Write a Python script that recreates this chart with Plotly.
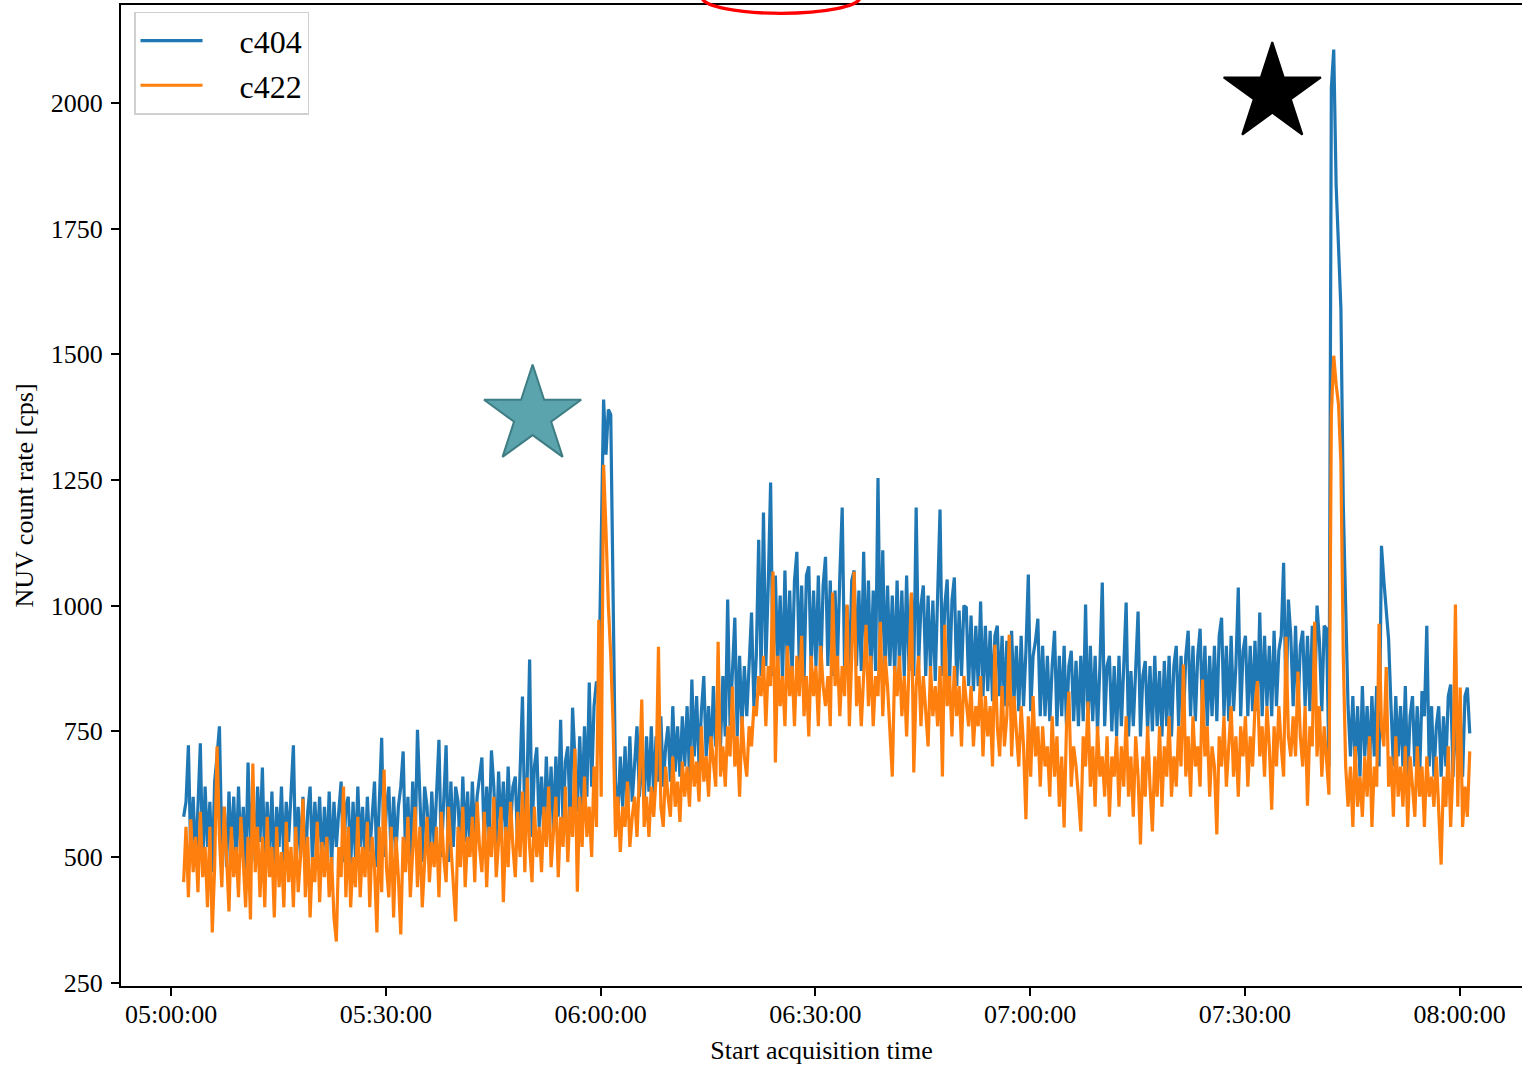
import pandas as pd
import plotly.graph_objects as go

# ---------------- data ----------------
day = "2000-01-01"
start_time = "05:01:45"
sample_seconds = 20

c404 = [
    580, 610, 722, 500, 620, 490, 600, 726, 480, 640, 520, 610, 470, 650, 700,
    760, 520, 600, 480, 630, 510, 620, 490, 640, 500, 600, 470, 688, 520, 620,
    490, 640, 530, 678, 480, 610, 500, 630, 470, 600, 520, 640, 490, 610, 530,
    630, 722, 480, 600, 500, 620, 470, 590, 640, 490, 610, 520, 620, 480, 600,
    500, 630, 480, 610, 520, 590, 650, 490, 600, 620, 480, 610, 500, 640, 520,
    600, 490, 620, 510, 580, 650, 480, 620, 737, 500, 600, 640, 490, 620, 510,
    600, 640, 710, 500, 620, 480, 650, 520, 753, 620, 490, 640, 600, 500, 630,
    520, 640, 733, 500, 600, 722, 490, 650, 520, 640, 610, 500, 660, 530, 630,
    510, 650, 540, 620, 660, 698, 520, 640, 540, 712, 640, 520, 670, 550, 650,
    530, 680, 560, 640, 660, 520, 690, 819, 560, 660, 893, 540, 680, 718, 560,
    660, 540, 700, 570, 680, 550, 700, 580, 773, 560, 690, 720, 570, 797, 700,
    590, 740, 600, 760, 620, 847, 640, 800, 849, 840, 1150, 1410, 1300, 1390, 1380,
    1000, 650, 580, 700, 600, 720, 590, 740, 610, 700, 760, 620, 720, 600, 740,
    630, 760, 620, 740, 650, 780, 640, 720, 760, 650, 800, 670, 760, 660, 780,
    680, 800, 660, 853, 700, 820, 680, 790, 860, 700, 800, 690, 840, 720, 820,
    720, 860, 740, 1012, 760, 880, 976, 740, 900, 760, 880, 780, 900, 986, 800,
    900, 1131, 860, 1185, 880, 1040, 1245, 860, 1060, 880, 1020, 850, 1070, 870, 1030,
    860, 1050, 1107, 880, 1040, 850, 1060, 1078, 870, 1030, 880, 1060, 860, 1040, 1097,
    880, 1050, 860, 1030, 880, 1060, 1195, 870, 1000, 860, 1050, 1070, 880, 1030, 870,
    1107, 880, 1050, 860, 1030, 870, 1254, 880, 1110, 860, 1040, 880, 1020, 860, 1050,
    880, 1030, 860, 1060, 870, 1020, 860, 1195, 880, 1000, 1040, 860, 1020, 870, 1010,
    850, 1030, 1191, 860, 1000, 1052, 850, 1010, 1056, 840, 990, 860, 1000, 996, 840,
    980, 830, 960, 840, 1008, 820, 960, 830, 950, 810, 940, 960, 820, 940, 800,
    930, 800, 950, 810, 920, 790, 940, 800, 910, 1062, 790, 900, 930, 974, 780,
    920, 780, 900, 770, 880, 950, 760, 900, 780, 920, 760, 880, 910, 770, 890,
    760, 900, 770, 1002, 750, 920, 770, 900, 750, 880, 1046, 760, 880, 900, 750,
    880, 740, 900, 760, 880, 1006, 740, 870, 760, 880, 988, 740, 860, 890, 750,
    880, 750, 900, 760, 870, 740, 890, 760, 900, 740, 880, 920, 760, 900, 770,
    900, 950, 780, 920, 770, 900, 954, 780, 920, 760, 900, 780, 920, 770, 940,
    976, 780, 920, 770, 940, 790, 880, 1036, 780, 910, 940, 780, 920, 790, 930,
    790, 986, 780, 940, 800, 920, 780, 950, 800, 910, 940, 1085, 800, 1012, 940,
    800, 960, 790, 920, 950, 800, 940, 790, 960, 810, 1000, 930, 790, 960, 954,
    680, 2030, 2106, 1837, 1700, 1592, 1200, 976, 800, 700, 820, 680, 800, 660, 840,
    700, 800, 680, 820, 700, 840, 680, 1119, 1050, 996, 932, 800, 680, 820, 700,
    800, 680, 840, 660, 780, 820, 680, 800, 660, 830, 780, 960, 680, 800, 660,
    760, 800, 660, 780, 680, 820, 843, 660, 800, 680, 780, 660, 820, 837, 746,
]

c422 = [
    450, 560, 420, 575, 470, 540, 430, 590, 460, 520, 400, 560, 350, 480, 720,
    540, 440, 600, 500, 392, 560, 460, 520, 420, 580, 480, 400, 540, 376, 686,
    470, 560, 420, 540, 400, 580, 460, 520, 380, 560, 440, 510, 400, 570, 450,
    520, 400, 560, 430, 500, 616, 420, 540, 380, 500, 450, 570, 410, 530, 460,
    540, 420, 500, 380, 332, 520, 460, 640, 420, 560, 400, 500, 440, 580, 420,
    520, 460, 570, 400, 540, 480, 350, 560, 430, 674, 480, 420, 560, 380, 540,
    460, 346, 540, 470, 580, 420, 520, 600, 440, 560, 400, 500, 580, 450, 530,
    480, 560, 420, 590, 500, 450, 600, 520, 430, 372, 560, 480, 600, 440, 540,
    500, 580, 450, 610, 520, 470, 590, 440, 560, 500, 620, 460, 540, 600, 410,
    560, 480, 610, 520, 460, 590, 500, 630, 470, 658, 520, 450, 600, 500, 560,
    470, 600, 520, 640, 480, 560, 620, 460, 580, 520, 640, 490, 600, 540, 716,
    431, 620, 520, 660, 540, 600, 500, 680, 560, 972, 620, 1280, 1150, 1000, 900,
    760, 540, 620, 510, 600, 560, 650, 520, 580, 620, 540, 660, 813, 560, 620,
    540, 640, 580, 660, 918, 600, 560, 680, 620, 580, 700, 600, 650, 570, 690,
    620, 680, 600, 720, 640, 690, 610, 760, 650, 700, 620, 740, 680, 640, 928,
    660, 720, 640, 760, 700, 839, 680, 740, 620, 780, 700, 660, 760, 720, 800,
    780, 860, 820, 900, 760, 880, 840, 1068, 688, 900, 800, 860, 760, 920, 820,
    880, 760, 900, 820, 940, 780, 860, 740, 900, 820, 880, 760, 920, 840, 800,
    860, 760, 1026, 840, 900, 780, 880, 820, 1002, 760, 900, 1068, 800, 860, 760,
    880, 962, 800, 900, 760, 860, 820, 968, 780, 900, 840, 760, 660, 880, 820,
    900, 780, 860, 740, 880, 1026, 668, 840, 900, 760, 860, 800, 720, 880, 780,
    840, 760, 880, 660, 962, 800, 860, 740, 880, 780, 840, 720, 860, 800, 760,
    840, 720, 800, 760, 860, 700, 820, 740, 800, 680, 922, 760, 700, 840, 720,
    780, 942, 700, 820, 740, 680, 800, 720, 575, 780, 660, 820, 700, 760, 640,
    760, 680, 720, 620, 780, 660, 740, 600, 700, 559, 760, 829, 640, 720, 680,
    620, 551, 740, 680, 809, 640, 720, 600, 760, 660, 700, 620, 740, 580, 700,
    660, 740, 600, 720, 640, 780, 620, 700, 580, 740, 660, 525, 700, 620, 760,
    640, 551, 700, 620, 760, 600, 720, 660, 780, 620, 700, 640, 760, 680, 883,
    660, 740, 620, 780, 680, 720, 640, 853, 700, 760, 620, 720, 680, 545, 740,
    680, 780, 640, 720, 800, 660, 740, 620, 760, 700, 780, 640, 740, 680, 800,
    850, 700, 760, 660, 800, 720, 594, 760, 680, 800, 720, 660, 938, 740, 700,
    780, 700, 869, 740, 680, 800, 602, 760, 720, 968, 700, 800, 660, 760, 700,
    624, 1380, 1497, 1440, 1400, 1284, 900, 680, 600, 680, 560, 720, 600, 660, 580,
    700, 620, 740, 560, 680, 640, 964, 760, 720, 878, 640, 700, 580, 740, 620,
    680, 600, 720, 560, 700, 640, 580, 720, 620, 680, 560, 700, 620, 660, 600,
    700, 580, 485, 660, 600, 720, 560, 680, 1002, 600, 837, 560, 640, 580, 710,
]

series_names = ["c404", "c422"]
series_colors = ["#1f77b4", "#ff7f0e"]

star_times = ["05:50:30", "07:33:50"]
star_values = [1378, 2019]
star_fill = ["#5ba4ad", "#000000"]
star_edge = ["#3f7d84", "#000000"]

x_tick_labels = ["05:00:00", "05:30:00", "06:00:00", "06:30:00",
                 "07:00:00", "07:30:00", "08:00:00"]
y_tick_values = [250, 500, 750, 1000, 1250, 1500, 1750, 2000]

x_range = ["04:53:00", "08:08:43"]
y_range = [243.5, 2194.5]

assert len(c404) == len(c422)

# ---------------- figure ----------------
times = pd.date_range(f"{day} {start_time}", periods=len(c404),
                      freq=f"{sample_seconds}s")

fig = go.Figure()
for name, vals, col in zip(series_names, [c404, c422], series_colors):
    fig.add_trace(go.Scatter(
        x=times, y=vals, name="\u2002\u2002" + name, mode="lines",
        line=dict(color=col, width=3.2),
    ))

for t, v, fc, ec in zip(star_times, star_values, star_fill, star_edge):
    fig.add_trace(go.Scatter(
        x=[f"{day} {t}"], y=[v], mode="markers", showlegend=False,
        marker=dict(symbol="star", size=73, color=fc,
                    line=dict(color=ec, width=2)),
    ))

serif = "Liberation Serif, Times New Roman, serif"

fig.update_layout(
    width=1522, height=1065,
    margin=dict(l=121, r=0, t=5, b=79, pad=0),
    paper_bgcolor="white", plot_bgcolor="white",
    font=dict(family=serif, size=26, color="black"),
    showlegend=True,
    legend=dict(
        x=0.0093, y=0.993, xanchor="left", yanchor="top",
        bgcolor="rgba(255,255,255,0.8)", bordercolor="#d0d0d0",
        borderwidth=1.5, font=dict(family=serif, size=32, color="black"),
        itemwidth=62, tracegroupgap=0,
    ),
    xaxis=dict(
        type="date",
        range=[f"{day} {x_range[0]}", f"{day} {x_range[1]}"],
        tickvals=[f"{day} {t}" for t in x_tick_labels],
        ticktext=x_tick_labels,
        ticks="outside", ticklen=8, tickwidth=2, tickcolor="black",
        showline=True, linecolor="black", linewidth=2.2, mirror=True,
        showgrid=False, zeroline=False, automargin=False,
        ticklabelstandoff=-4,
        title=dict(text="Start acquisition time", standoff=17,
                   font=dict(family=serif, size=26, color="black")),
        tickfont=dict(family=serif, size=26, color="black"),
    ),
    yaxis=dict(
        range=y_range,
        tickvals=y_tick_values,
        ticks="outside", ticklen=8, tickwidth=2, tickcolor="black",
        showline=True, linecolor="black", linewidth=2.2, mirror=False,
        showgrid=False, zeroline=False, automargin=False,
        ticklabelstandoff=3,
        title=dict(text="NUV count rate [cps]", standoff=10,
                   font=dict(family=serif, size=26, color="black")),
        tickfont=dict(family=serif, size=26, color="black"),
    ),
    shapes=[dict(
        type="circle", xref="paper", yref="paper", layer="above",
        x0=0.4147, x1=0.5275, y0=0.9915, y1=1.0242,
        line=dict(color="red", width=3.3), fillcolor="rgba(0,0,0,0)",
    )],
)

fig.write_html("out.html")
